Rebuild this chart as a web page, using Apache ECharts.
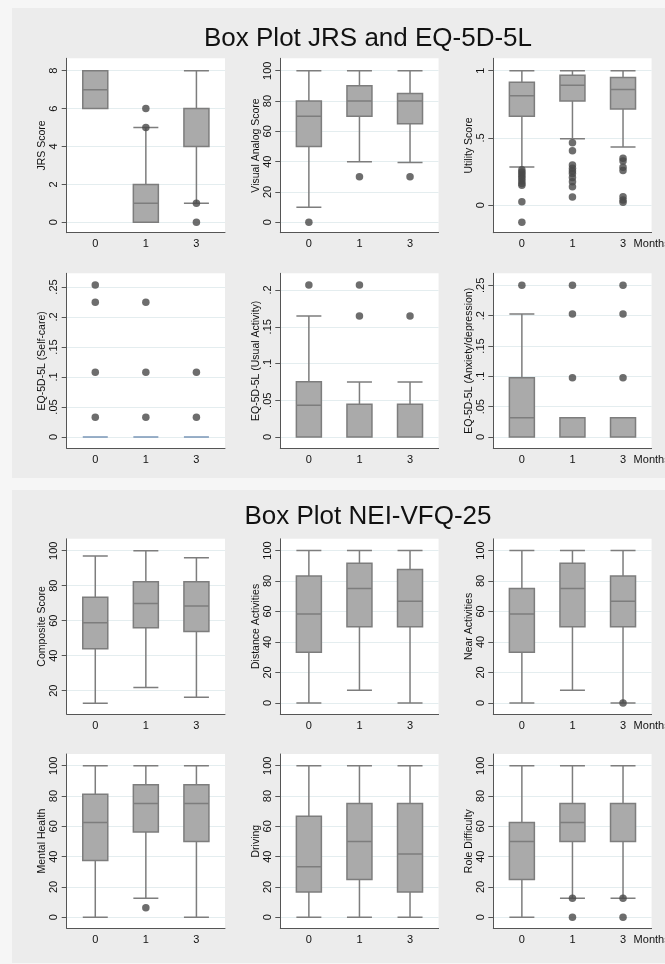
<!DOCTYPE html>
<html><head><meta charset="utf-8">
<script src="https://cdn.jsdelivr.net/npm/echarts@6/dist/echarts.min.js"></script>
<style>html,body{margin:0;padding:0;background:#f6f6f6}#c{width:665px;height:964px}</style>
</head><body><div id="c"></div>
<script>
const months = ['0', '1', '3'];

// JRS Score
const jrsTicks = [0, 2, 4, 6, 8];
const jrsBox = [[6, 6, 7, 8, 8], [0, 0, 1, 2, 5], [1, 4, 6, 6, 8]];
const jrsOut = [[1, 5], [1, 6], [2, 1], [2, 0]];
// Visual Analog Score
const vasTicks = [0, 20, 40, 60, 80, 100];
const vasBox = [[10, 50, 70, 80, 100], [40, 70, 80, 90, 100], [39.5, 65, 80, 85, 100]];
const vasOut = [[0, 0], [1, 30], [2, 30]];
// Utility Score
const utilTicks = [0, 0.5, 1];
const utilBox = [[0.284, 0.661, 0.814, 0.915, 1], [0.495, 0.774, 0.891, 0.967, 1], [0.433, 0.715, 0.861, 0.950, 1]];
const utilOut = [[0, 0.264], [0, 0.248], [0, 0.232], [0, 0.216], [0, 0.199], [0, 0.18], [0, 0.162], [0, 0.148], [0, 0.027], [0, -0.126],
  [1, 0.465], [1, 0.405], [1, 0.299], [1, 0.276], [1, 0.255], [1, 0.236], [1, 0.207], [1, 0.175], [1, 0.138], [1, 0.062],
  [2, 0.349], [2, 0.33], [2, 0.282], [2, 0.258], [2, 0.064], [2, 0.04], [2, 0.022]];
// EQ-5D-5L Self-care
const scTicks = [0, 0.05, 0.1, 0.15, 0.2, 0.25];
const scBox = [[0, 0, 0, 0, 0], [0, 0, 0, 0, 0], [0, 0, 0, 0, 0]];
const scOut = [[0, 0.2533], [0, 0.2245], [0, 0.1078], [0, 0.0328], [1, 0.2245], [1, 0.1078], [1, 0.0328], [2, 0.1078], [2, 0.0328]];
// EQ-5D-5L Usual Activity
const uaTicks = [0, 0.05, 0.1, 0.15, 0.2];
const uaBox = [[0, 0, 0.0431, 0.0752, 0.1646], [0, 0, 0, 0.0445, 0.0748], [0, 0, 0, 0.0445, 0.0748]];
const uaOut = [[0, 0.2068], [1, 0.2068], [1, 0.1646], [2, 0.1646]];
// EQ-5D-5L Anxiety/depression
const adTicks = [0, 0.05, 0.1, 0.15, 0.2, 0.25];
const adBox = [[0, 0, 0.0319, 0.0978, 0.2027], [0, 0, 0, 0.0319, 0.0319], [0, 0, 0.0319, 0.0319, 0.0319]];
const adOut = [[0, 0.25], [1, 0.25], [1, 0.2027], [1, 0.0978], [2, 0.25], [2, 0.2027], [2, 0.0978]];
// NEI-VFQ-25
const compTicks = [20, 40, 60, 80, 100];
const compBox = [[12.8, 44, 58.9, 73.4, 97], [21.9, 56, 69.9, 82.3, 100], [16.2, 53.9, 68.4, 82.3, 96]];
const compOut = [];
const pctTicks = [0, 20, 40, 60, 80, 100];
const distBox = [[0, 33.3, 58.3, 83.3, 100], [8.3, 50, 75, 91.7, 100], [0, 50, 66.7, 87.5, 100]];
const distOut = [];
const nearBox = [[0, 33.3, 58.3, 75, 100], [8.3, 50, 75, 91.7, 100], [0, 50, 66.7, 83.3, 100]];
const nearOut = [[2, 0]];
const mentBox = [[0, 37.5, 62.5, 81.25, 100], [12.5, 56.25, 75, 87.5, 100], [0, 50, 75, 87.5, 100]];
const mentOut = [[1, 6.25]];
const drivBox = [[0, 16.7, 33.3, 66.7, 100], [0, 25, 50, 75, 100], [0, 16.7, 41.7, 75, 100]];
const drivOut = [];
const roleBox = [[0, 25, 50, 62.5, 100], [12.5, 50, 62.5, 75, 100], [12.5, 50, 50, 75, 100]];
const roleOut = [[1, 12.5], [1, 0], [2, 12.5], [2, 0]];

const panels = [
  {name: 'JRS Score', box: jrsBox, out: jrsOut, ticks: jrsTicks, min: -0.549, max: 8.654},
  {name: 'Visual Analog Score', box: vasBox, out: vasOut, ticks: vasTicks, min: -6.86, max: 108.18},
  {name: 'Utility Score', box: utilBox, out: utilOut, ticks: utilTicks, min: -0.2036, max: 1.0921, months: true},
  {name: 'EQ-5D-5L (Self-care)', box: scBox, out: scOut, ticks: scTicks, min: -0.01883, max: 0.27283, flat: true},
  {name: 'EQ-5D-5L (Usual Activity)', box: uaBox, out: uaOut, ticks: uaTicks, min: -0.01537, max: 0.22272},
  {name: 'EQ-5D-5L (Anxiety/depression)', box: adBox, out: adOut, ticks: adTicks, min: -0.01862, max: 0.26978, months: true},
  {name: 'Composite Score', box: compBox, out: compOut, ticks: compTicks, min: 6.69, max: 106.8},
  {name: 'Distance Activities', box: distBox, out: distOut, ticks: pctTicks, min: -7.21, max: 107.67},
  {name: 'Near Activities', box: nearBox, out: nearOut, ticks: pctTicks, min: -7.21, max: 107.67, months: true},
  {name: 'Mental Health', box: mentBox, out: mentOut, ticks: pctTicks, min: -7.26, max: 107.72},
  {name: 'Driving', box: drivBox, out: drivOut, ticks: pctTicks, min: -7.26, max: 107.72},
  {name: 'Role Difficulty', box: roleBox, out: roleOut, ticks: pctTicks, min: -7.26, max: 107.72, months: true}
];

const colLeft = [66.7, 280.3, 493.3];
const colW = 158.3;
const rowTop = [58.3, 273.3, 538.8, 754];
const rowH = [174.4, 175, 175.2, 174.3];
const FONT = "'Liberation Sans', Arial, Helvetica, sans-serif";
const fmt = v => String(+v.toFixed(4)).replace(/^0\./, '.').replace(/^-0\./, '-.');

const grids = [], xAxes = [], yAxes = [], series = [];
panels.forEach((p, i) => {
  const r = Math.floor(i / 3), c = i % 3;
  grids.push({left: colLeft[c], top: rowTop[r], width: colW, height: rowH[r], show: true, backgroundColor: '#ffffff', borderWidth: 0, containLabel: false, outerBoundsMode: 'none'});
  xAxes.push({
    type: 'value', gridIndex: i, min: -0.565, max: 2.565,
    axisLine: {show: true, onZero: false, lineStyle: {color: '#555', width: 1}},
    axisTick: {show: false},
    splitLine: {show: false},
    axisLabel: {customValues: [0, 1, 2], formatter: v => months[Math.round(v)], color: '#111', fontSize: 11, fontFamily: FONT, margin: 6},
    name: p.months ? 'Months' : '', nameLocation: 'end', nameGap: -18,
    nameTextStyle: {color: '#111', fontSize: 11, fontFamily: FONT, align: 'left', verticalAlign: 'top', padding: [6, 0, 0, 0]}
  });
  yAxes.push({
    type: 'value', gridIndex: i, min: p.min, max: p.max,
    axisLine: {show: true, onZero: false, lineStyle: {color: '#555', width: 1}},
    axisTick: {show: true, length: 5, customValues: p.ticks, lineStyle: {color: '#555'}},
    axisLabel: {customValues: p.ticks, formatter: fmt, rotate: 90, color: '#111', fontSize: 11, fontFamily: FONT, margin: 7},
    splitLine: {show: true, lineStyle: {color: '#e4edef', width: 1}},
    name: p.name, nameLocation: 'middle', nameGap: 19,
    nameTextStyle: {color: '#111', fontSize: 10.5, fontFamily: FONT}
  });
  series.push({
    type: 'boxplot', xAxisIndex: i, yAxisIndex: i, silent: true, boxWidth: [25, 25],
    itemStyle: {color: '#aaaaaa', borderColor: '#7d7d7d', borderWidth: 1.5},
    data: p.box.map((b, k) => p.flat ? {value: [k].concat(b), itemStyle: {borderColor: '#7a97b8', borderWidth: 1.5}} : [k].concat(b))
  });
  series.push({
    type: 'scatter', xAxisIndex: i, yAxisIndex: i, silent: true, symbolSize: 7.5,
    itemStyle: {color: '#484848'}, data: p.out
  });
});

const chart = echarts.init(document.getElementById('c'), null, {renderer: 'canvas'});
chart.setOption({
  backgroundColor: '#f6f6f6',
  animation: false,
  graphic: [
    {type: 'rect', shape: {x: 12, y: 8, width: 660, height: 470}, style: {fill: '#ececec'}, z: -10, silent: true},
    {type: 'rect', shape: {x: 12, y: 490, width: 660, height: 473}, style: {fill: '#ececec'}, z: -10, silent: true}
  ],
  title: [
    {text: 'Box Plot JRS and EQ-5D-5L', left: 363, top: 21, textAlign: 'center', textStyle: {fontSize: 26, fontWeight: 'normal', color: '#111', fontFamily: FONT}},
    {text: 'Box Plot NEI-VFQ-25', left: 363, top: 499, textAlign: 'center', textStyle: {fontSize: 26, fontWeight: 'normal', color: '#111', fontFamily: FONT}}
  ],
  grid: grids, xAxis: xAxes, yAxis: yAxes, series: series
});
</script></body></html>
